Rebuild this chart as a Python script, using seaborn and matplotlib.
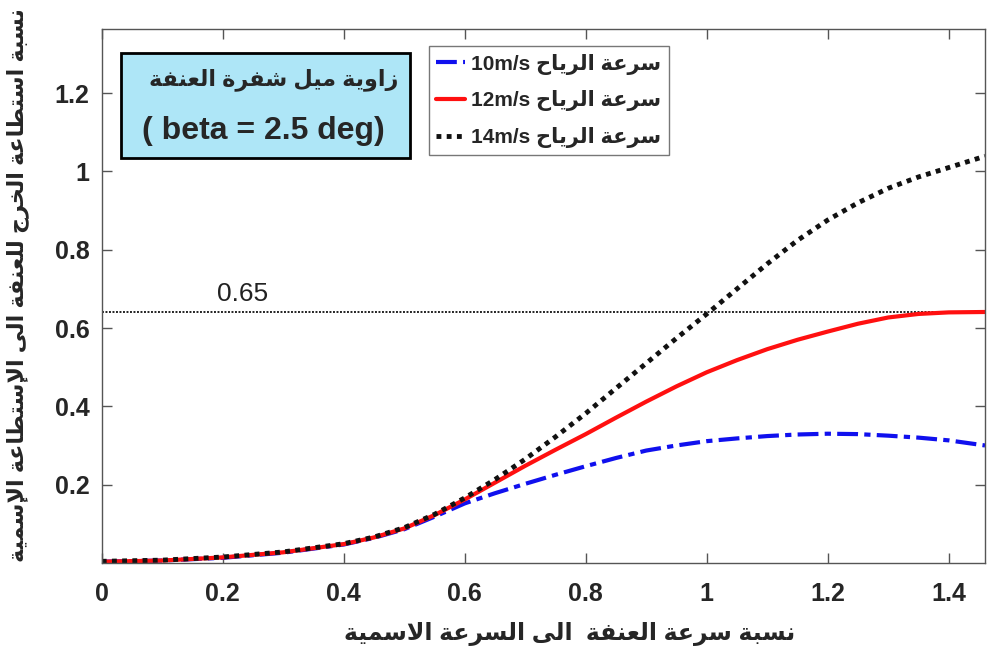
import matplotlib
matplotlib.use('Agg')
import matplotlib.pyplot as plt
from matplotlib.patches import Rectangle
import seaborn as sns

# data
speed_ratio = [0, 0.1, 0.2, 0.3, 0.4, 0.45, 0.5, 0.55, 0.6, 0.65, 0.7, 0.75, 0.8, 0.85,
               0.9, 0.95, 1.0, 1.05, 1.1, 1.15, 1.2, 1.25, 1.3, 1.35, 1.4, 1.46]
power_10 = [0.003, 0.006, 0.013, 0.026, 0.047, 0.064, 0.086, 0.118, 0.152, 0.178, 0.202, 0.225, 0.247,
            0.268, 0.287, 0.300, 0.311, 0.318, 0.324, 0.328, 0.330, 0.329, 0.325, 0.320, 0.313, 0.300]
power_12 = [0.003, 0.006, 0.014, 0.027, 0.048, 0.065, 0.088, 0.122, 0.162, 0.205, 0.248, 0.289, 0.329,
            0.371, 0.412, 0.451, 0.487, 0.518, 0.546, 0.570, 0.591, 0.611, 0.627, 0.636, 0.640, 0.641]
power_14 = [0.004, 0.007, 0.015, 0.028, 0.049, 0.066, 0.090, 0.124, 0.166, 0.213, 0.265, 0.322, 0.382,
            0.446, 0.510, 0.574, 0.636, 0.700, 0.764, 0.824, 0.876, 0.920, 0.957, 0.986, 1.010, 1.039]
series_names = ['10m/s', '12m/s', '14m/s']
ref_level = 0.641
ref_text = '0.65'
x_ticks = [0, 0.2, 0.4, 0.6, 0.8, 1, 1.2, 1.4]
y_ticks = [0.2, 0.4, 0.6, 0.8, 1, 1.2]

# arabic text (logical order)
wind_ar = 'سرعة الرياح'
xlabel_ar = 'نسبة سرعة العنفة  الى السرعة الاسمية'
ylabel_ar = 'نسبة استطاعة الخرج للعنفة الى الإستطاعة الإسمية'
box_ar = 'زاوية ميل شفرة العنفة'
box_en = '( beta = 2.5 deg)'

# minimal arabic shaping: presentation forms + visual order
FORMS = {
    '\u0627': (0xFE8D, 0xFE8E), '\u0625': (0xFE87, 0xFE88),
    '\u0628': (0xFE8F, 0xFE90, 0xFE91, 0xFE92), '\u0629': (0xFE93, 0xFE94),
    '\u062A': (0xFE95, 0xFE96, 0xFE97, 0xFE98), '\u062C': (0xFE9D, 0xFE9E, 0xFE9F, 0xFEA0),
    '\u062D': (0xFEA1, 0xFEA2, 0xFEA3, 0xFEA4), '\u062E': (0xFEA5, 0xFEA6, 0xFEA7, 0xFEA8),
    '\u0631': (0xFEAD, 0xFEAE), '\u0632': (0xFEAF, 0xFEB0),
    '\u0633': (0xFEB1, 0xFEB2, 0xFEB3, 0xFEB4), '\u0634': (0xFEB5, 0xFEB6, 0xFEB7, 0xFEB8),
    '\u0637': (0xFEC1, 0xFEC2, 0xFEC3, 0xFEC4), '\u0639': (0xFEC9, 0xFECA, 0xFECB, 0xFECC),
    '\u0641': (0xFED1, 0xFED2, 0xFED3, 0xFED4), '\u0644': (0xFEDD, 0xFEDE, 0xFEDF, 0xFEE0),
    '\u0645': (0xFEE1, 0xFEE2, 0xFEE3, 0xFEE4), '\u0646': (0xFEE5, 0xFEE6, 0xFEE7, 0xFEE8),
    '\u0647': (0xFEE9, 0xFEEA, 0xFEEB, 0xFEEC), '\u0648': (0xFEED, 0xFEEE),
    '\u0649': (0xFEEF, 0xFEF0), '\u064A': (0xFEF1, 0xFEF2, 0xFEF3, 0xFEF4),
}
LAM_ALEF = {'\u0627': (0xFEFB, 0xFEFC), '\u0625': (0xFEF9, 0xFEFA)}


def joins_left(c):
    return c in FORMS and len(FORMS[c]) == 4


def ar(s):
    out = []
    i = 0
    n = len(s)
    while i < n:
        c = s[i]
        if c not in FORMS:
            out.append(c)
            i += 1
            continue
        pj = i > 0 and joins_left(s[i - 1])
        if c == '\u0644' and i + 1 < n and s[i + 1] in LAM_ALEF:
            iso, fin = LAM_ALEF[s[i + 1]]
            out.append(chr(fin if pj else iso))
            i += 2
            continue
        f = FORMS[c]
        nj = len(f) == 4 and i + 1 < n and s[i + 1] in FORMS
        if pj and nj:
            g = f[3]
        elif pj:
            g = f[1]
        elif nj:
            g = f[2]
        else:
            g = f[0]
        out.append(chr(g))
        i += 1
    return ''.join(out)[::-1]


sns.set_theme(style='ticks')
fam = ['Liberation Sans', 'DejaVu Sans']
plt.rcParams['font.family'] = fam
plt.rcParams['xtick.direction'] = 'in'
plt.rcParams['ytick.direction'] = 'in'
plt.rcParams['xtick.top'] = True
plt.rcParams['ytick.right'] = True

fig = plt.figure(figsize=(9.88, 6.53), dpi=100)
ax = fig.add_axes([0.103, 0.138, 0.894, 0.817])

labels = [n + ' ' + ar(wind_ar) for n in series_names]
sns.lineplot(x=speed_ratio, y=power_10, ax=ax, color='#1010ee', lw=3,
             linestyle=(0, (5, 1.5, 1.5, 1.5)), label=labels[0])
sns.lineplot(x=speed_ratio, y=power_12, ax=ax, color='#ff1010', lw=3,
             linestyle='-', label=labels[1])
sns.lineplot(x=speed_ratio, y=power_14, ax=ax, color='#111111', lw=3.5,
             linestyle=(0, (1, 1.1)), label=labels[2])

ax.axhline(ref_level, color='#222222', lw=1.4, linestyle=(0, (1, 0.8)), zorder=1)
ax.text(0.19, ref_level + 0.015, ref_text, fontsize=19, color='#222222', va='bottom')

ax.set_xlim(0, 1.46)
ax.set_ylim(0, 1.363)
ax.set_xticks(x_ticks)
ax.set_xticklabels([f'{t:g}' for t in x_ticks])
ax.set_yticks(y_ticks)
ax.set_yticklabels([f'{t:g}' for t in y_ticks])
ax.tick_params(labelsize=18, length=7, width=1, color='#555555')
ax.tick_params(axis='x', pad=14)
ax.tick_params(axis='y', pad=9)
for lab in ax.get_xticklabels() + ax.get_yticklabels():
    lab.set_fontweight('bold')
for sp in ax.spines.values():
    sp.set_color('#555555')
    sp.set_linewidth(1)

ax.set_xlabel(ar(xlabel_ar), fontsize=17, fontweight='bold', family=fam)
ax.set_ylabel(ar(ylabel_ar), fontsize=16, fontweight='bold', family=fam)
ax.xaxis.set_label_coords(0.53, -0.11)
ax.yaxis.set_label_coords(-0.082, 0.52)

# parameter box
ax.add_patch(Rectangle((0.0215, 0.758), 0.328, 0.197, transform=ax.transAxes,
                       fc='#aee6f7', ec='black', lw=2, zorder=5))
ax.text(0.336, 0.905, ar(box_ar), transform=ax.transAxes, ha='right', va='center',
        fontsize=16, fontweight='bold', zorder=6)
ax.text(0.183, 0.81, box_en, transform=ax.transAxes, ha='center', va='center',
        fontsize=23, fontweight='bold', zorder=6)

leg = ax.legend(loc='upper left', bbox_to_anchor=(0.37, 0.968), borderaxespad=0,
                prop={'family': fam, 'weight': 'bold', 'size': 15},
                handlelength=1.4, handletextpad=0.3, borderpad=0.35,
                labelspacing=0.75, fancybox=False, framealpha=1)
leg.get_frame().set_edgecolor('#777777')
leg.get_frame().set_linewidth(1)

fig.savefig('out.png', dpi=100)
